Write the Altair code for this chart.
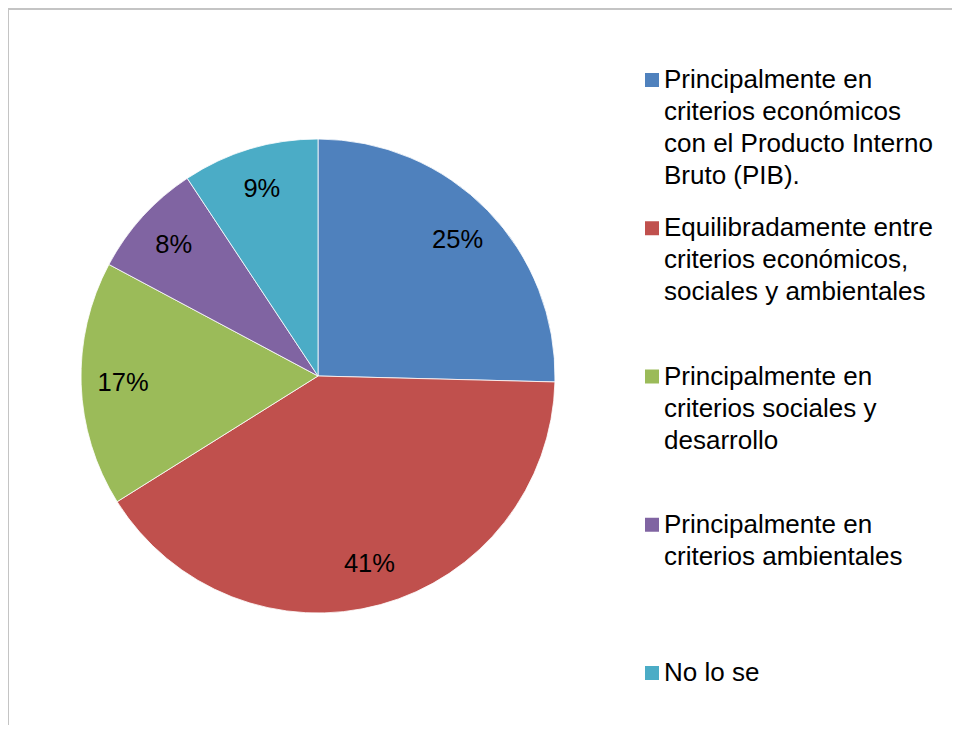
import altair as alt
import pandas as pd

categories = [
    "Principalmente en criterios económicos con el Producto Interno Bruto (PIB).",
    "Equilibradamente entre criterios económicos, sociales y ambientales",
    "Principalmente en criterios sociales y desarrollo",
    "Principalmente en criterios ambientales",
    "No lo se",
]
legend_lines = [
    "Principalmente en\ncriterios económicos\ncon el Producto Interno\nBruto (PIB).",
    "Equilibradamente entre\ncriterios económicos,\nsociales y ambientales",
    "Principalmente en\ncriterios sociales y\ndesarrollo",
    "Principalmente en\ncriterios ambientales",
    "No lo se",
]
values = [25.4, 40.7, 16.7, 7.9, 9.3]
pct_labels = ["25%", "41%", "17%", "8%", "9%"]
colors = ["#4F81BD", "#C0504D", "#9BBB59", "#8064A2", "#4BACC6"]

df = pd.DataFrame({
    "cat": categories,
    "legend": legend_lines,
    "value": values,
    "pct": pct_labels,
    "order": list(range(len(categories))),
})

W, H = 954, 727
CX, CY, R = 310, 368, 237
FONT = "Liberation Sans"

color_scale = alt.Scale(domain=categories, range=colors)

base = alt.Chart(df)

pie = base.mark_arc(radius=R, stroke="white", strokeWidth=0.8).encode(
    theta=alt.Theta("value:Q", stack=True),
    color=alt.Color("cat:N", scale=color_scale, legend=None),
    order=alt.Order("order:Q"),
    x=alt.value(CX),
    y=alt.value(CY),
)

labels = base.mark_text(radius=195, font=FONT, fontSize=25.5, color="black",
                        align="center", baseline="middle").encode(
    theta=alt.Theta("value:Q", stack=True),
    order=alt.Order("order:Q"),
    text="pct:N",
    x=alt.value(CX),
    y=alt.value(CY),
)

ypos = alt.Y("order:Q", scale=alt.Scale(domain=[0, 4], range=[72, 665]), axis=None)

leg_sq = base.mark_square(size=196, opacity=1).encode(
    x=alt.value(644),
    y=ypos,
    color=alt.Color("cat:N", scale=color_scale, legend=None),
)

leg_txt = base.mark_text(font=FONT, fontSize=26, lineHeight=32, lineBreak="\n",
                         align="left", baseline="alphabetic", dy=8, color="black").encode(
    x=alt.value(656),
    y=ypos,
    text="legend:N",
)

border_top = alt.Chart(pd.DataFrame({"a": [0]})).mark_rule(color="#c4c4c4", strokeWidth=2).encode(
    x=alt.value(0), x2=alt.value(W), y=alt.value(1)
)
border_left = alt.Chart(pd.DataFrame({"a": [0]})).mark_rule(color="#c4c4c4", strokeWidth=2).encode(
    x=alt.value(0), y=alt.value(1), y2=alt.value(H)
)

chart = alt.layer(pie, labels, leg_sq, leg_txt, border_top, border_left).properties(
    width=W - 10, height=H - 10,
    autosize=alt.AutoSizeParams(type="none"),
    padding=0,
).configure_view(stroke=None)

chart.save("out.html", embed_options={"renderer": "svg", "actions": False})
